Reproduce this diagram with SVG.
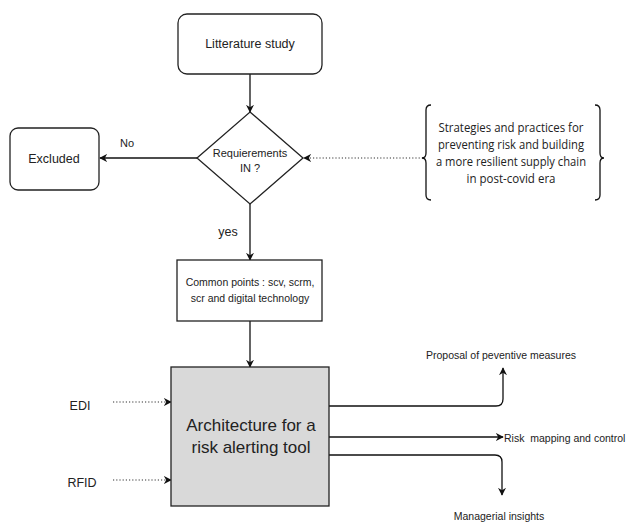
<svg xmlns="http://www.w3.org/2000/svg" width="628" height="523" viewBox="0 0 628 523">
<style>
.box{fill:#fff;stroke:#222;stroke-width:1.3}
.t{font-family:"Liberation Sans",Arial,sans-serif;fill:#222;text-anchor:middle}
.c{stroke:#111;stroke-width:1.3;fill:none}
.d{stroke:#333;stroke-width:1.2;fill:none;stroke-dasharray:1.2 2}
.b{font-family:"Open Sans","Noto Sans",sans-serif;fill:#222;text-anchor:middle;font-size:12px}
</style>
<defs>
<marker id="ar" viewBox="0 0 10 10" refX="9" refY="5" markerWidth="8" markerHeight="8" orient="auto" markerUnits="userSpaceOnUse">
<path d="M0,0 L10,5 L0,10 L3,5 z" fill="#111"/>
</marker>
</defs>
<rect width="628" height="523" fill="#fff"/>
<g id="connectors">
<line class="c" x1="250" y1="74" x2="250" y2="112" marker-end="url(#ar)"/>
<line class="c" x1="197" y1="158" x2="100" y2="158" marker-end="url(#ar)"/>
<line class="d" x1="423" y1="158" x2="304" y2="158" marker-end="url(#ar)"/>
<line class="c" x1="250" y1="204" x2="250" y2="260" marker-end="url(#ar)"/>
<line class="c" x1="250" y1="321" x2="250" y2="367" marker-end="url(#ar)"/>
<line class="d" x1="113" y1="402" x2="171" y2="402" marker-end="url(#ar)"/>
<line class="d" x1="113" y1="480" x2="171" y2="480" marker-end="url(#ar)"/>
<path class="c" d="M329,406 L496,406 Q503,406 503,399 L503,368" marker-end="url(#ar)"/>
<line class="c" x1="329" y1="437" x2="503" y2="437" marker-end="url(#ar)"/>
<path class="c" d="M329,455 L495,455 Q502,455 502,462 L502,495" marker-end="url(#ar)"/>
</g>
<g id="litterature">
<rect class="box" x="178" y="14" width="144" height="60" rx="9"/>
<text class="t" x="250" y="48" font-size="12.5">Litterature study</text>
</g>
<g id="requirements">
<polygon class="box" points="250,112 303,158 250,204 197,158"/>
<text class="t" x="250" y="157" font-size="11">Requierements</text>
<text class="t" x="250" y="172" font-size="11">IN ?</text>
</g>
<g id="excluded">
<rect class="box" x="10" y="128" width="89" height="62" rx="8"/>
<text class="t" x="54" y="163" font-size="12.5">Excluded</text>
</g>
<text class="t" x="127" y="147" font-size="11">No</text>
<g id="strategies">
<path class="c" stroke-width="1.1" d="M431,105 Q426,105 426,110 L426,153 Q426,158 422,158 Q426,158 426,163 L426,195 Q426,200 431,200"/>
<path class="c" stroke-width="1.1" d="M595,105 Q600,105 600,110 L600,153 Q600,158 604,158 Q600,158 600,163 L600,195 Q600,200 595,200"/>
<text class="b" x="511" y="132" textLength="145" lengthAdjust="spacingAndGlyphs">Strategies and practices for</text>
<text class="b" x="511" y="149" textLength="146" lengthAdjust="spacingAndGlyphs">preventing risk and building</text>
<text class="b" x="511" y="166" textLength="150" lengthAdjust="spacingAndGlyphs">a more resilient supply chain</text>
<text class="b" x="511" y="183" textLength="89" lengthAdjust="spacingAndGlyphs">in post-covid era</text>
</g>
<text class="t" x="228" y="236" font-size="12.5">yes</text>
<g id="common">
<rect class="box" x="177" y="260" width="145" height="61"/>
<text class="t" x="250" y="286" font-size="10.5">Common points : scv, scrm,</text>
<text class="t" x="250" y="302" font-size="10.5">scr and digital technology</text>
</g>
<g id="architecture">
<rect x="171" y="367" width="158" height="139" fill="#d9d9d9" stroke="#222" stroke-width="1.3"/>
<text class="t" x="251" y="431" font-size="17">Architecture for a</text>
<text class="t" x="251" y="453" font-size="17">risk alerting tool</text>
</g>
<g id="edi"><text class="t" x="80" y="410" font-size="12.5">EDI</text></g>
<g id="rfid"><text class="t" x="82" y="487" font-size="12.5">RFID</text></g>
<g id="proposal"><text class="t" x="501" y="359" font-size="10.5">Proposal of peventive measures</text></g>
<g id="riskmap"><text class="t" x="504" y="442" font-size="10.5" style="text-anchor:start">Risk&#160; mapping and control</text></g>
<g id="managerial"><text class="t" x="499" y="520" font-size="10.5">Managerial insights</text></g>
</svg>
